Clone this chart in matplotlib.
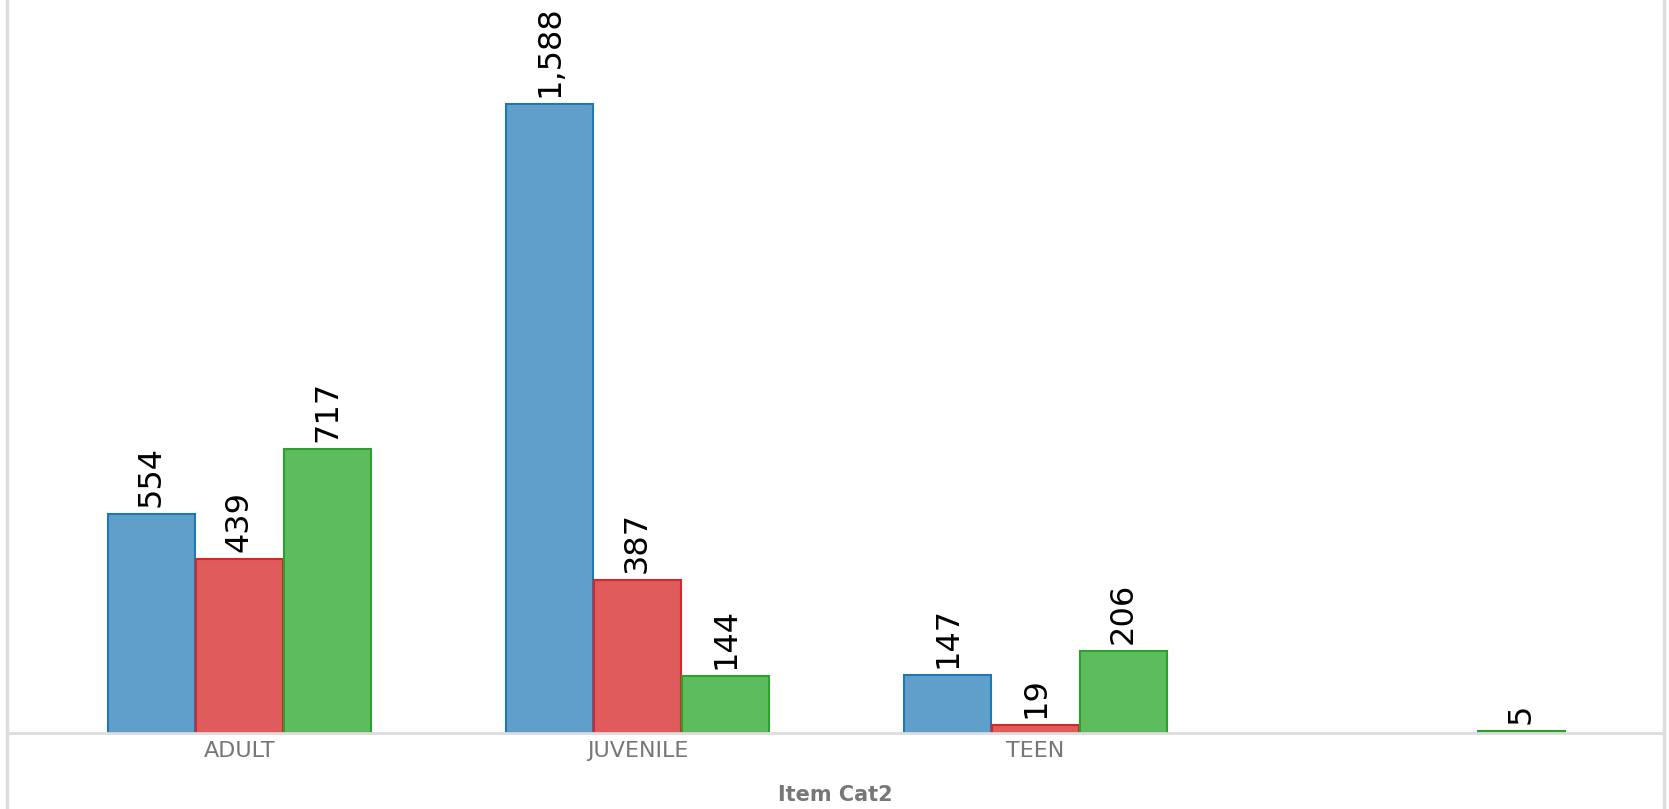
import numpy as np
import matplotlib.pyplot as plt
from matplotlib.lines import Line2D

categories = ["ADULT", "JUVENILE", "TEEN", ""]
series_a = [554, 1588, 147, np.nan]
series_b = [439, 387, 19, np.nan]
series_c = [717, 144, 206, 5]

fills = ["#609fca", "#e05b5c", "#5dbd5e"]
edges = ["#1f77b4", "#d62728", "#2ca02c"]

fig = plt.figure(figsize=(16.69, 8.09), dpi=100)
ax = fig.add_axes([0.0042, 0.094, 0.9928, 0.906])

x = np.arange(len(categories))
w = 0.221
for i, vals in enumerate([series_a, series_b, series_c]):
    pos = x + (i - 1) * w
    ax.bar(pos, vals, width=w * 0.99, color=fills[i], edgecolor=edges[i], linewidth=1.5)
    for p, v in zip(pos, vals):
        if np.isnan(v):
            continue
        ax.annotate(f"{int(v):,}", (p, v), xytext=(0, 5), textcoords="offset points",
                    rotation=90, ha="center", va="bottom", fontsize=23, color="black")

ax.set_xlim(-0.584, 3.579)
ax.set_ylim(0, 1851)
ax.set_xticks(x)
ax.set_xticklabels(categories, fontsize=16, color="#777777")
ax.tick_params(axis="x", length=0, pad=6)
ax.set_yticks([])
ax.set_xlabel("Item Cat2", fontsize=15, fontweight="bold", color="#777777", labelpad=17)

for s in ["top", "left", "right"]:
    ax.spines[s].set_visible(False)
ax.spines["bottom"].set_color("#dddddd")
ax.spines["bottom"].set_linewidth(2)

# thin borders running the full height of the figure
for xf in [0.0042, 0.9970]:
    fig.add_artist(Line2D([xf, xf], [0, 1], transform=fig.transFigure,
                          color="#dddddd", linewidth=2.5))

fig.savefig("out.png", dpi=100)
